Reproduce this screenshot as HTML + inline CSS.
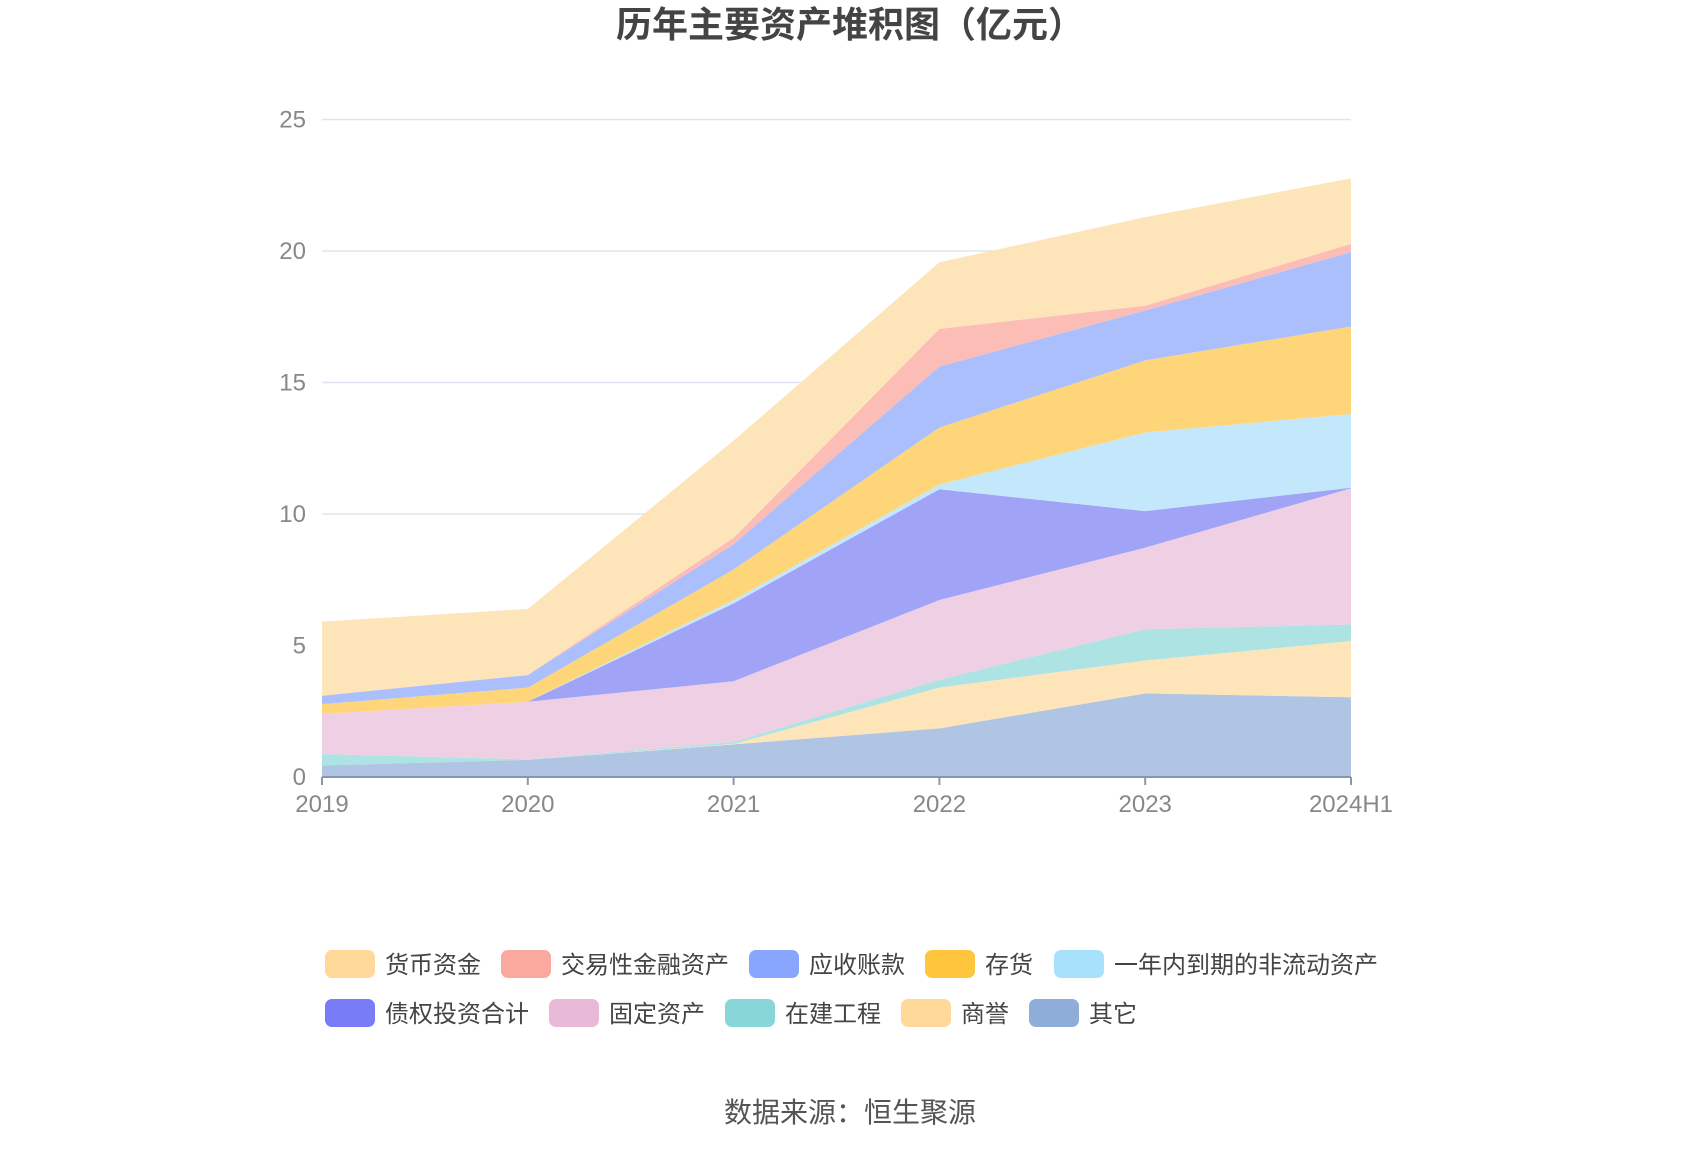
<!DOCTYPE html>
<html><head><meta charset="utf-8"><style>
body{margin:0;background:#fff;}
svg text{font-family:"Liberation Sans","Noto Sans CJK SC",sans-serif;}
</style></head><body>
<svg id="chart" width="1700" height="1150" xmlns="http://www.w3.org/2000/svg">
<text x="850" y="37" text-anchor="middle" font-size="36" font-weight="bold" fill="#444">历年主要资产堆积图（亿元）</text>
<g id="grid"></g><g id="areas"></g><g id="axes"></g><g id="legend"></g>
<text x="850" y="1122" text-anchor="middle" font-size="28" fill="#555">数据来源：恒生聚源</text>
</svg>
<script>
const categories=["2019","2020","2021","2022","2023","2024H1"];
const yTicks=[0,5,10,15,20,25];
const seriesNames=["其它","商誉","在建工程","固定资产","债权投资合计","一年内到期的非流动资产","存货","应收账款","交易性金融资产","货币资金"];
const other=[0.44,0.65,1.24,1.85,3.18,3.03];
const goodwill=[0,0,0.02,1.55,1.25,2.14];
const construction=[0.43,0.02,0.07,0.30,1.19,0.63];
const fixedAssets=[1.53,2.19,2.31,3.03,3.10,5.18];
const debtInvest=[0,0,2.96,4.21,1.39,0.02];
const currentNonCurrent=[0,0,0.13,0.18,2.99,2.80];
const inventory=[0.37,0.54,1.16,2.17,2.74,3.33];
const receivables=[0.32,0.48,0.96,2.32,1.90,2.83];
const tradingAssets=[0,0,0.24,1.43,0.18,0.31];
const cash=[2.82,2.51,3.70,2.53,3.37,2.49];
const seriesValues=[other,goodwill,construction,fixedAssets,debtInvest,currentNonCurrent,inventory,receivables,tradingAssets,cash];
const fills=["#b0c5e4","#fde5b9","#ade3e3","#eecfe3","#a0a3f6","#c4e8fb","#fed679","#abbffd","#fbbdb6","#fde5b9"];
const legendColors=["#8eadd9","#ffd99a","#88d6d8","#e8bad8","#797cf7","#a8e1fa","#ffc53d","#88a6fd","#fba89e","#ffd99a"];
const NS="http://www.w3.org/2000/svg";
const X0=322,X1=1351,Y0=777,YT=119.5,YMAX=25;
const xs=i=>X0+(X1-X0)*i/(categories.length-1);
const ys=v=>Y0-(Y0-YT)*v/YMAX;
function mk(t,a,p){const e=document.createElementNS(NS,t);for(const k in a)e.setAttribute(k,a[k]);p.appendChild(e);return e;}
const grid=document.getElementById('grid'),axes=document.getElementById('axes'),areas=document.getElementById('areas'),legend=document.getElementById('legend');
yTicks.forEach(v=>{
 if(v>0){const l=mk('line',{x1:X0,x2:X1,y1:ys(v),y2:ys(v),stroke:'#e0e3f0','stroke-width':1.5},grid);
 
 }
 const t=mk('text',{x:306,y:ys(v)+8,'text-anchor':'end','font-size':24,fill:'#888'},axes);t.textContent=v;
 
 
});
let base=categories.map(()=>0);
seriesValues.forEach((vals,s)=>{
 const top=base.map((b,i)=>b+vals[i]);
 let d='M'+top.map((v,i)=>xs(i)+','+ys(v)).join('L');
 for(let i=categories.length-1;i>=0;i--)d+='L'+xs(i)+','+ys(base[i]);
 const p=mk('path',{d:d+'Z',fill:fills[s]},areas);
 
 
 base=top;
});
const ax=mk('line',{x1:X0,x2:X1,y1:Y0,y2:Y0,stroke:'#8a96b0','stroke-width':2},axes);


categories.forEach((c,i)=>{
 mk('line',{x1:xs(i),x2:xs(i),y1:Y0,y2:Y0+8,stroke:'#8a96b0','stroke-width':2},axes);
 const t=mk('text',{x:xs(i),y:812,'text-anchor':'middle','font-size':24,fill:'#888'},axes);t.textContent=c;
 
 
});
const legendOrder=[9,8,7,6,5,4,3,2,1,0];
const legendPos=[[325,964],[501,964],[749,964],[925,964],[1054,964],[325,1013],[549,1013],[725,1013],[901,1013],[1029,1013]];
legendOrder.forEach((s,k)=>{
 const [lx,ly]=legendPos[k];
 const g=mk('g',{},legend);
 
 
 mk('rect',{x:lx,y:ly-14,width:50,height:28,rx:7,fill:legendColors[s]},g);
 const t=mk('text',{x:lx+60,y:ly+9,'font-size':24,fill:'#444'},g);t.textContent=seriesNames[s];
});
</script>
</body></html>
